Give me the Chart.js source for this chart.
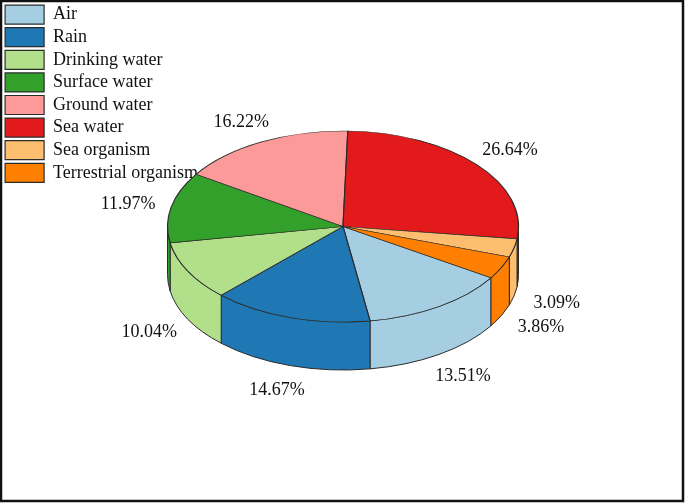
<!DOCTYPE html>
<html>
<head>
<meta charset="utf-8">
<script src="https://cdn.jsdelivr.net/npm/chart.js@4"></script>
<style>
    html, body { margin: 0; padding: 0; background: #fff; }
    canvas { display: block; }
</style>
</head>
<body>
<canvas id="myChart" width="685" height="503"></canvas>
<script>
const categories = ['Air', 'Rain', 'Drinking water', 'Surface water', 'Ground water', 'Sea water', 'Sea organism', 'Terrestrial organism'];
const shares = [13.51, 14.67, 10.04, 11.97, 16.22, 26.64, 3.09, 3.86];
const colors = ['#a6cee3', '#1f78b4', '#b2df8a', '#33a02c', '#fb9a99', '#e31a1c', '#fdbf6f', '#ff7f00'];

// the squashed disc
const centerX = 343;
const centerY = 226.5;
const radiusX = 175.5;
const radiusY = 95.5;
const depth = 48;

const pie3d = {
    id: 'pie3d',
    // a chartArea legend ignores the top padding, so nudge it here
    beforeDraw(chart) {
        chart.legend.top = 1.5;
    },
    // side wall first, then the top face gets squashed into an ellipse
    beforeDatasetDraw(chart) {
        const ctx = chart.ctx;
        const arcs = chart.getDatasetMeta(0).data;
        arcs.forEach((arc, i) => {
            for (let k = -2; k <= 2; k++) {
                const a0 = Math.max(arc.startAngle + k * 2 * Math.PI, 0);
                const a1 = Math.min(arc.endAngle + k * 2 * Math.PI, Math.PI);
                if (a1 <= a0) continue;
                ctx.beginPath();
                ctx.ellipse(centerX, centerY + depth, radiusX, radiusY, 0, a0, a1);
                ctx.ellipse(centerX, centerY, radiusX, radiusY, 0, a1, a0, true);
                ctx.closePath();
                ctx.fillStyle = colors[i];
                ctx.fill();
                ctx.strokeStyle = '#2b2b2b';
                ctx.lineWidth = 1;
                ctx.stroke();
            }
        });
        ctx.save();
        ctx.translate(centerX, centerY);
        ctx.scale(1, radiusY / radiusX);
        ctx.translate(-arcs[0].x, -arcs[0].y);
    },
    afterDatasetDraw(chart) {
        const ctx = chart.ctx;
        ctx.restore();

        // percent labels sit outside the rim, the front ones below the wall
        ctx.font = '18px "Liberation Serif"';
        ctx.fillStyle = '#111';
        ctx.textAlign = 'center';
        ctx.textBaseline = 'middle';
        chart.getDatasetMeta(0).data.forEach((arc, i) => {
            const mid = (arc.startAngle + arc.endAngle) / 2;
            const x = centerX + 1.25 * radiusX * Math.cos(mid);
            let y = centerY + 1.5 + 1.25 * radiusY * Math.sin(mid);
            if (Math.sin(mid) > 0) y += depth;
            ctx.fillText(shares[i].toFixed(2) + '%', x, y);
        });
    },
    afterDraw(chart) {
        const ctx = chart.ctx;
        ctx.strokeStyle = '#111';
        ctx.lineWidth = 2.5;
        ctx.strokeRect(1, 1, 682, 500);
    }
};

new Chart(document.getElementById('myChart'), {
    type: 'pie',
    data: {
        labels: categories,
        datasets: [{
            data: shares,
            backgroundColor: colors,
            borderColor: '#2b2b2b',
            borderWidth: 1.2,
            radius: radiusX,
            rotation: 122.5
        }]
    },
    options: {
        responsive: false,
        animation: false,
        layout: { padding: { left: 1.5 } },
        plugins: {
            tooltip: { enabled: false },
            legend: {
                position: 'chartArea',
                align: 'start',
                labels: {
                    color: '#111',
                    font: { family: '"Liberation Serif"', size: 18 },
                    boxWidth: 39,
                    boxHeight: 19,
                    padding: 3.6
                }
            }
        }
    },
    plugins: [pie3d]
});
</script>
</body>
</html>
